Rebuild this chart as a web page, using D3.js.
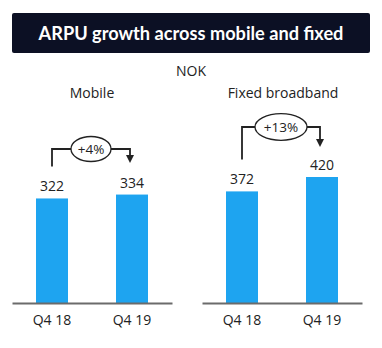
<!DOCTYPE html>
<html><head><meta charset="utf-8">
<script src="https://cdn.jsdelivr.net/npm/d3@7"></script>
<style>body{margin:0;background:#fff}svg{display:block}text{font-family:"Open Sans",sans-serif}</style>
</head><body>
<script>
const title = "ARPU growth across mobile and fixed";
const unitLabel = "NOK";
const panelTitles = ["Mobile", "Fixed broadband"];
const categories = ["Q4 18", "Q4 19"];
const mobileValues = [322, 334];
const fixedValues = [372, 420];
const growthLabels = ["+4%", "+13%"];

const W = 382, H = 348;
const svg = d3.select("body").append("svg").attr("width", W).attr("height", H);

svg.append("rect").attr("x", 12).attr("y", 13).attr("width", 358).attr("height", 40)
  .attr("rx", 2).attr("fill", "#0c1024");
const t = svg.append("text").attr("x", 191).attr("y", 40).attr("text-anchor", "middle")
  .attr("fill", "#fff").attr("font-weight", 700).attr("font-size", 18)
  .style("font-family", "Lato, 'Open Sans', sans-serif").text(title);
const tw = t.node().getComputedTextLength();
t.attr("font-size", 18 * 305 / tw);

svg.append("text").attr("x", 191).attr("y", 76).attr("text-anchor", "middle")
  .attr("font-size", 14).attr("fill", "#222").text(unitLabel);

const panels = [
  {values: mobileValues, x0: 12, x1: 172, ymax: 462, title: panelTitles[0], tx: 92, growth: growthLabels[0], ellY: 149, rx: 20, ry: 12.5, tip: 163, headLen: 8},
  {values: fixedValues, x0: 202, x1: 362, ymax: 500, title: panelTitles[1], tx: 283, growth: growthLabels[1], ellY: 127, rx: 26, ry: 13.3, tip: 147, headLen: 8}
];
const baseY = 303;

panels.forEach(p => {
  const x = d3.scaleBand().domain(categories).range([p.x0, p.x1]).paddingInner(0.6).paddingOuter(0.3);
  const y = d3.scaleLinear().domain([0, p.ymax]).range([baseY, 153]);
  const g = svg.append("g");
  g.append("text").attr("x", p.tx).attr("y", 98).attr("text-anchor", "middle")
    .attr("font-size", 14).attr("fill", "#222").text(p.title);
  g.selectAll("rect.bar").data(p.values).join("rect").attr("class", "bar")
    .attr("x", (d, i) => x(categories[i])).attr("width", x.bandwidth())
    .attr("y", d => y(d)).attr("height", d => baseY - y(d)).attr("fill", "#1ea4f0");
  g.selectAll("text.val").data(p.values).join("text").attr("class", "val")
    .attr("x", (d, i) => x(categories[i]) + x.bandwidth() / 2).attr("y", d => y(d) - 7)
    .attr("text-anchor", "middle").attr("font-size", 14).attr("fill", "#222").text(d => d);
  const axis = d3.axisBottom(x).tickSize(0).tickPadding(12);
  const ag = g.append("g").attr("transform", `translate(0,${baseY})`).call(axis);
  ag.select(".domain").attr("stroke", "#6b6b6b").attr("stroke-width", 2);
  ag.selectAll("text").attr("font-size", 14).attr("fill", "#222").attr("font-family", "'Open Sans',sans-serif");

  const xa = x(categories[0]) + x.bandwidth() / 2;
  const xb = x(categories[1]) + x.bandwidth() / 2 - 2;
  const cx = (xa + xb) / 2;
  const startY = y(p.values[0]) - 32;
  g.append("path").attr("fill", "none").attr("stroke", "#222").attr("stroke-width", 1.8)
    .attr("d", `M${xa},${startY}V${p.ellY}H${cx - p.rx}M${cx + p.rx},${p.ellY}H${xb}V${p.tip - p.headLen}`);
  g.append("path").attr("fill", "#222")
    .attr("d", `M${xb - 4},${p.tip - p.headLen}L${xb + 4},${p.tip - p.headLen}L${xb},${p.tip}Z`);
  g.append("ellipse").attr("cx", cx).attr("cy", p.ellY).attr("rx", p.rx).attr("ry", p.ry)
    .attr("fill", "#fff").attr("stroke", "#222").attr("stroke-width", 1.3);
  g.append("text").attr("x", cx).attr("y", p.ellY + 5).attr("text-anchor", "middle")
    .attr("font-size", 13.5).attr("fill", "#222").text(p.growth);
});
</script>
</body></html>
